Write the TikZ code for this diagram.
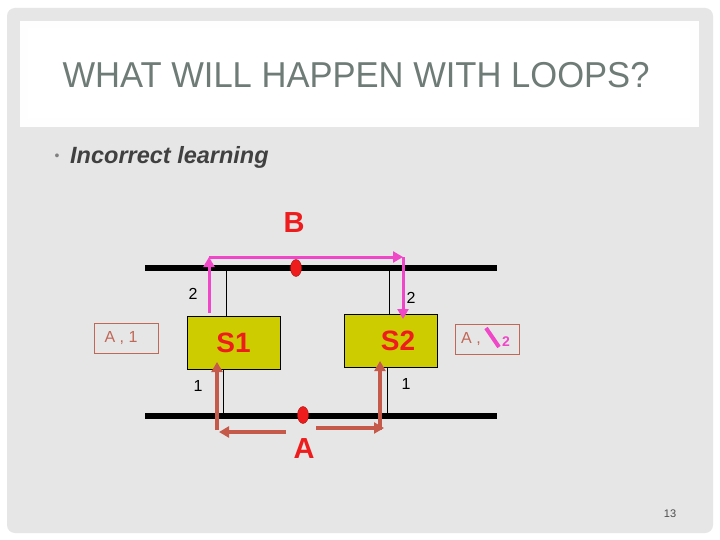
\documentclass[tikz,border=0pt]{standalone}
\usepackage{fontspec}
\setmainfont{Liberation Sans}
\usetikzlibrary{arrows.meta,shapes.geometric}
\definecolor{slidebg}{HTML}{E6E6E6}
\definecolor{titlefg}{HTML}{6E7B77}
\definecolor{boxfill}{HTML}{CCCC00}
\definecolor{netred}{HTML}{EE1C1C}
\definecolor{pinkarr}{HTML}{F046C8}
\definecolor{brownarr}{HTML}{C55A4A}
\definecolor{tabfg}{HTML}{C06858}
\tikzset{
  bus/.style={line width=6pt},
  stub/.style={line width=0.7pt},
  hostdot/.style={ellipse, fill=netred, draw=netred!70!black, minimum width=11pt, minimum height=17pt, inner sep=0pt},
  bridge/.style={draw=black, line width=0.7pt, fill=boxfill, minimum width=93pt, minimum height=53pt, inner sep=0pt, text=netred, font=\bfseries\fontsize{28}{30}\selectfont},
  tabbox/.style={draw=tabfg, line width=0.8pt, minimum width=64pt, minimum height=30pt, inner sep=0pt, text=tabfg, font=\fontsize{16}{18}\selectfont},
  portlbl/.style={font=\fontsize{16}{18}\selectfont, inner sep=0pt},
  bigred/.style={text=netred, font=\bfseries\fontsize{29}{31}\selectfont, inner sep=0pt},
  pinkflow/.style={draw=pinkarr, line width=3pt, -{Triangle[length=10pt,width=11pt]}},
  brownflow/.style={draw=brownarr, line width=3.5pt, -{Triangle[length=10pt,width=11pt]}},
}
\begin{document}
\begin{tikzpicture}[x=1pt,y=-1pt]
\useasboundingbox (0,0) rectangle (720,540);
\fill[white] (0,0) rectangle (720,540);
\fill[slidebg, rounded corners=8pt] (7,8) rectangle (713,533);
\fill[white!96!slidebg] (20,21) rectangle (699,127);
\fill[white] (28,28) rectangle (690,118);
\node[text=titlefg, font=\fontsize{36}{40}\selectfont, xscale=0.96, inner sep=0pt] (title) at (356,75) {WHAT WILL HAPPEN WITH LOOPS?};
\node[text=black!50, font=\fontsize{14}{16}\selectfont, inner sep=0pt] (bul) at (57,157) {•};
\node[anchor=west, text=black!75, font=\bfseries\itshape\fontsize{23.5}{26}\selectfont, inner sep=0pt] (bt) at (70,157) {Incorrect learning};

% buses
\coordinate (t1) at (145,268); \coordinate (t2) at (497,268);
\coordinate (b1) at (145,416); \coordinate (b2) at (497,416);
\draw[bus] (t1) -- (t2);
\draw[bus] (b1) -- (b2);
\node[hostdot] (hB) at (296,268) {};
\node[hostdot] (hA) at (303,415) {};
\node[bigred] (B) at (294,223) {B};
\node[bigred] (A) at (304,449) {A};

% bridges
\node[bridge] (S1) at (233.5,342.5) {S1};
\node[bridge] (S2) at (391,340.5) {\hspace*{14pt}S2};
\draw[stub] (226,268) -- (226,316);
\draw[stub] (389,268) -- (389,314);
\draw[stub] (223,369) -- (223,416);
\draw[stub] (387,367) -- (387,416);

\node[portlbl] (p1) at (193,294) {2};
\node[portlbl] (p2) at (411,298) {2};
\node[portlbl] (p3) at (198,386) {1};
\node[portlbl] (p4) at (406,384) {1};

% tables
\node[tabbox] (T1) at (126,338) {A , 1\hspace*{10pt}};
\node[tabbox] (T2) at (487,339) {};
\node[anchor=west, text=tabfg, font=\fontsize{16}{18}\selectfont, inner sep=0pt] (T2a) at (461,339) {A ,};
\draw[pinkarr, line width=4pt] (486,328) -- (499,347);
\node[text=pinkarr, font=\bfseries\fontsize{14}{16}\selectfont, inner sep=0pt] (T2b) at (506,342) {2};

% pink flow (B)
\coordinate (pu1) at (209,313); \coordinate (pu2) at (209,257);
\coordinate (pd1) at (403,257); \coordinate (pd2) at (403,319);
\draw[pinkflow] (pu1) -- (pu2);
\draw[pinkflow] (pu2) -- (pd1);
\draw[pinkflow] (pd1) -- (pd2);

% brown flow (A)
\coordinate (la) at (286,432); \coordinate (lb) at (219,432);
\coordinate (lc) at (217,430); \coordinate (ld) at (217,362);
\coordinate (ra) at (316,428); \coordinate (rb) at (384,428);
\coordinate (rc) at (380,430); \coordinate (rd) at (380,361);
\draw[brownflow] (la) -- (lb);
\draw[brownflow] (lc) -- (ld);
\draw[brownflow] (ra) -- (rb);
\draw[brownflow] (rc) -- (rd);

\node[text=black!70, font=\fontsize{11}{13}\selectfont, inner sep=0pt] (pg) at (670,514) {13};
\end{tikzpicture}
\end{document}
